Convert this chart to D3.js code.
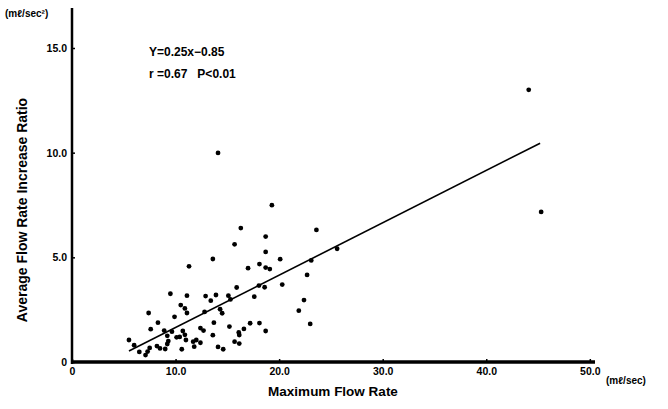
<!DOCTYPE html>
<html>
<head>
<meta charset="utf-8">
<script src="https://cdn.jsdelivr.net/npm/d3@7"></script>
<style>
  body { margin: 0; background: #fff; }
  text { font-family: "Liberation Sans", Arial, sans-serif; font-weight: bold; fill: #000; }
</style>
</head>
<body>
<svg id="chart" width="668" height="409"></svg>
<script>
// maximum flow rate (ml/sec) for each patient
const maxFlow = [
  44.1, 45.3, 14.1, 19.3, 16.3, 18.7, 15.7, 18.7, 23.6, 25.6,
  13.6, 20.1, 11.3, 17.0, 18.1, 18.7, 19.1, 22.7, 23.1, 18.05,
  20.3, 18.6, 15.9, 22.4, 21.9, 23.0, 9.5, 11.1, 10.5, 10.9,
  11.1, 7.4, 9.9, 8.3, 7.6, 8.9, 9.65, 10.1, 5.5, 6.0,
  6.5, 7.1, 7.3, 7.5, 8.2, 8.5, 9.0, 9.2, 10.6, 10.7,
  11.0, 11.7, 12.0, 12.4, 11.8, 12.4, 12.7, 12.8, 12.9, 13.4,
  13.9, 15.1, 15.3, 17.6, 14.3, 14.5, 13.7, 15.2, 17.2, 18.1,
  16.6, 16.1, 16.15, 18.7, 13.6, 15.7, 16.15, 14.1, 14.6, 9.2,
  9.3, 10.4, 10.9
];
// average flow rate increase ratio (ml/sec^2)
const avgIncrease = [
  13.0, 7.17, 9.99, 7.49, 6.40, 5.99, 5.62, 5.26, 6.31, 5.41,
  4.92, 4.91, 4.57, 4.48, 4.68, 4.51, 4.44, 4.16, 4.85, 3.65,
  3.70, 3.57, 3.56, 2.96, 2.45, 1.82, 3.26, 3.17, 2.72, 2.56,
  2.34, 2.34, 2.16, 1.88, 1.57, 1.50, 1.45, 1.18, 1.05, 0.80,
  0.48, 0.33, 0.50, 0.67, 0.76, 0.65, 0.62, 0.86, 0.61, 1.48,
  1.05, 0.97, 1.05, 0.92, 0.73, 1.62, 1.50, 2.39, 3.15, 2.93,
  3.20, 3.17, 2.99, 3.12, 2.52, 2.33, 1.88, 1.69, 1.85, 1.86,
  1.58, 1.41, 1.29, 1.48, 1.28, 0.97, 0.88, 0.72, 0.61, 1.25,
  1.00, 1.20, 1.30
];
const xTicks = [0, 10, 20, 30, 40, 50];
const yTicks = [0, 5, 10, 15];
// regression Y = 0.25x - 0.85, drawn over this x range
const fitSlope = 0.25;
const fitIntercept = -0.85;
const fitRange = [5.5, 45.2];

const svg = d3.select("#chart");
const margin = { top: 8, left: 72 };

const x = d3.scaleLinear().domain([0, 50.5]).range([margin.left, margin.left + 523]);
const y = d3.scaleLinear().domain([0, 15]).range([362, 48]);

const fmt = d => (d === 0 ? "0" : d3.format(".1f")(d));

// axes
const xAxis = svg.append("g")
  .attr("transform", "translate(0," + y(0) + ")")
  .call(d3.axisBottom(x).tickValues(xTicks).tickFormat(fmt).tickSize(-3).tickPadding(6));
xAxis.select(".domain").attr("stroke-width", 3.5).attr("d", "M" + (x(0) - 1) + ",0H" + x(50.5));
xAxis.selectAll(".tick line").attr("stroke-width", 1.5);
xAxis.selectAll(".tick text").attr("font-size", 10.5);

const yAxis = svg.append("g")
  .attr("transform", "translate(" + x(0) + ",0)")
  .call(d3.axisLeft(y).tickValues(yTicks).tickFormat(fmt).tickSize(-3).tickPadding(5));
yAxis.select(".domain").attr("stroke-width", 2.5).attr("d", "M0," + (y(0) + 2) + "V" + margin.top);
yAxis.selectAll(".tick line").attr("stroke-width", 1.5);
yAxis.selectAll(".tick text").attr("font-size", 10.5);

svg.selectAll(".tick text").style("font-family", "'Liberation Sans', sans-serif").style("font-weight", "bold");

// regression line
svg.append("line")
  .attr("x1", x(fitRange[0]))
  .attr("y1", y(fitSlope * fitRange[0] + fitIntercept))
  .attr("x2", x(fitRange[1]))
  .attr("y2", y(fitSlope * fitRange[1] + fitIntercept))
  .attr("stroke", "#000")
  .attr("stroke-width", 1.6);

// dots
svg.append("g")
  .selectAll("circle")
  .data(maxFlow.map((v, i) => [v, avgIncrease[i]]))
  .join("circle")
  .attr("cx", d => x(d[0]))
  .attr("cy", d => y(d[1]))
  .attr("r", 2.4)
  .attr("fill", "#000");

// equation
svg.append("text").attr("x", 149).attr("y", 56).attr("font-size", 12).text("Y=0.25x\u22120.85");
svg.append("text").attr("x", 149).attr("y", 78).attr("font-size", 12).attr("xml:space", "preserve").text("r =0.67   P<0.01");

// axis titles and units
svg.append("text")
  .attr("x", 333).attr("y", 396)
  .attr("text-anchor", "middle").attr("font-size", 13.5)
  .text("Maximum Flow Rate");
svg.append("text")
  .attr("transform", "translate(27,210) rotate(-90)")
  .attr("text-anchor", "middle").attr("font-size", 14)
  .text("Average Flow Rate Increase Ratio");
svg.append("text").attr("x", 5).attr("y", 17).attr("font-size", 10).text("(m\u2113/sec\u00b2)");
svg.append("text").attr("x", 606).attr("y", 384).attr("font-size", 10).text("(m\u2113/sec)");
</script>
</body>
</html>
